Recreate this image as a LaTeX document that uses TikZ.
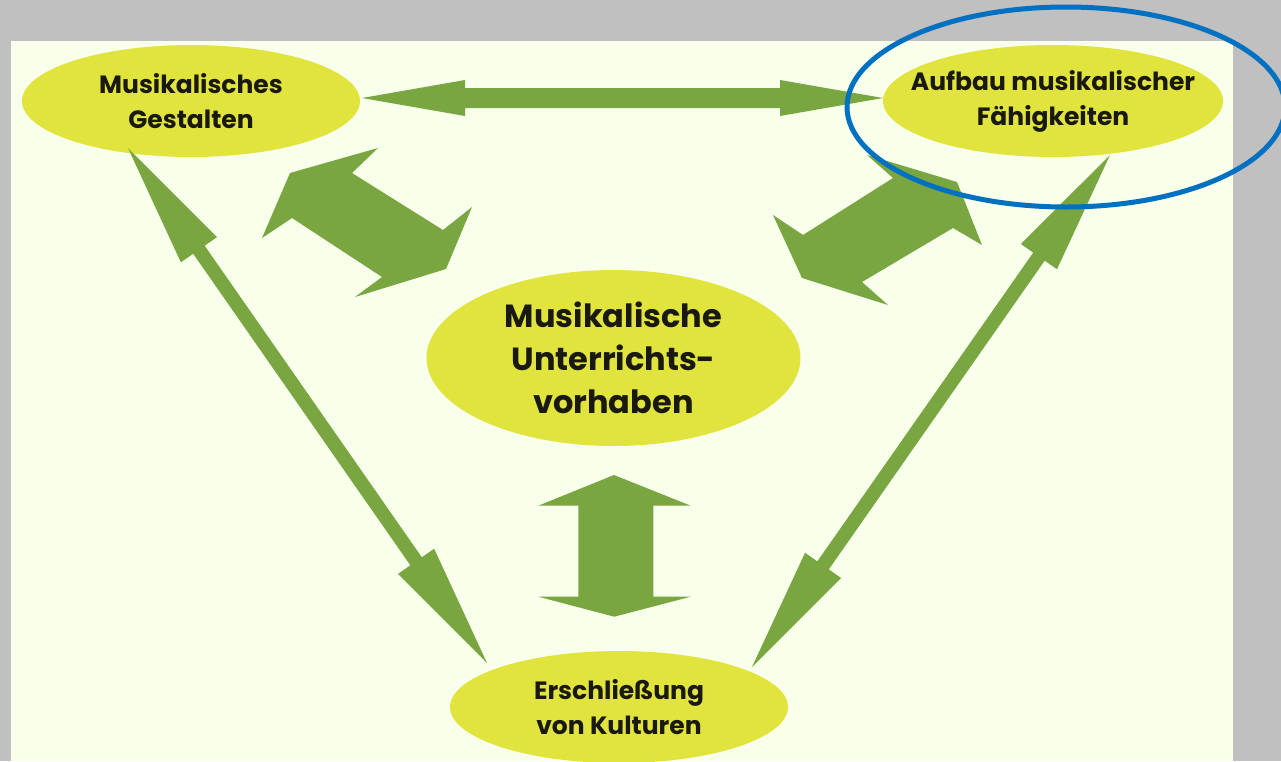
\documentclass[tikz,border=0pt]{standalone}
\usepackage{fontspec}
\setmainfont{Poppins}
\usetikzlibrary{shapes.geometric,calc}
\definecolor{bggray}{RGB}{192,192,192}
\definecolor{panel}{RGB}{248,255,234}
\definecolor{elly}{RGB}{226,228,62}
\definecolor{agreen}{RGB}{122,166,66}
\definecolor{hlblue}{RGB}{0,112,192}
\definecolor{txt}{RGB}{25,25,15}
\tikzset{
  ell/.style={ellipse, fill=elly, inner sep=0pt, text=txt, align=center, font=\bfseries\fontsize{25}{35}\selectfont},
  bigell/.style={ell, font=\bfseries\fontsize{32}{43}\selectfont},
  arrowfill/.style={fill=agreen},
  hl/.style={draw=hlblue, line width=5pt}
}
\newcommand\dblarr[5]{%
  \fill[arrowfill] (#1)
    -- ($(#1)!#5!(#2)!#4!90:(#2)$)
    -- ($(#1)!#5!(#2)!#3!90:(#2)$)
    -- ($(#2)!#5!(#1)!#3!-90:(#1)$)
    -- ($(#2)!#5!(#1)!#4!-90:(#1)$)
    -- (#2)
    -- ($(#2)!#5!(#1)!#4!90:(#1)$)
    -- ($(#2)!#5!(#1)!#3!90:(#1)$)
    -- ($(#1)!#5!(#2)!#3!-90:(#2)$)
    -- ($(#1)!#5!(#2)!#4!-90:(#2)$)
    -- cycle;}
\begin{document}
\begin{tikzpicture}[x=1pt,y=-1pt]
\useasboundingbox (0,0) rectangle (1281,761);
\fill[bggray] (0,0) rectangle (1281,761);
\fill[panel] (11,41) rectangle (1233,761);

% nodes
\node[ell, minimum width=338pt, minimum height=112pt] (gest) at (191,101) {Musikalisches\\Gestalten};
\node[ell, inner xsep=-28pt, minimum width=340pt, minimum height=112pt] (aufb) at (1053,101) {Aufbau musikalischer\\Fähigkeiten};
\node[bigell, minimum width=374pt, minimum height=176pt] (mitte) at (613.5,358) {Musikalische\\Unterrichts-\\vorhaben};
\node[ell, minimum width=338pt, minimum height=112pt] (kult) at (619,707) {Erschließung\\von Kulturen};

% connector end points
\coordinate (gR) at (362,98);
\coordinate (aL) at (883,98);
\coordinate (gB) at (128,148);
\coordinate (kL) at (487,663);
\coordinate (aB) at (1110,155);
\coordinate (kR) at (752,667);

\dblarr{gR}{aL}{10pt}{18pt}{103pt}
\dblarr{gB}{kL}{7pt}{22pt}{124pt}
\dblarr{aB}{kR}{7pt}{22pt}{124pt}

% block arrows
\fill[arrowfill] (262,238) -- (290,173) -- (378,148) -- (352,173) -- (443,230)
  -- (472,207) -- (446,269) -- (355,297) -- (382,277) -- (292,218) -- cycle;
\fill[arrowfill] (773,215) -- (802,278) -- (888,305) -- (862,282) -- (953,228)
  -- (982,245) -- (957,182) -- (867,155) -- (893,178) -- (803,235) -- cycle;
\fill[arrowfill] (614,475) -- (690.7,505.7) -- (653.3,505.7) -- (653.3,596.7)
  -- (690.7,596.7) -- (614.3,616.7) -- (538.3,596.7) -- (578.3,596.7)
  -- (578.3,505.7) -- (538.3,505.7) -- cycle;

% highlight
\draw[hl] (1066,107) ellipse [x radius=219, y radius=100];
\end{tikzpicture}
\end{document}
